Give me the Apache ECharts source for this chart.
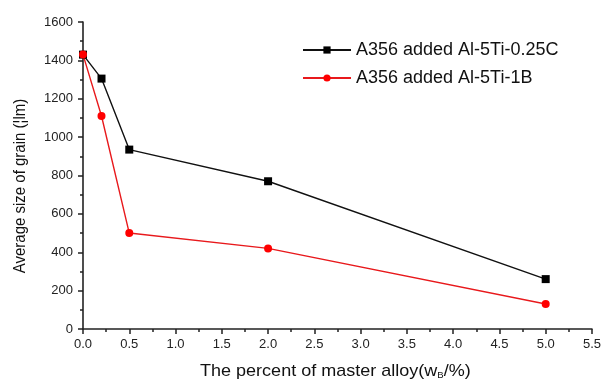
<!DOCTYPE html>
<html>
<head>
<meta charset="utf-8">
<script src="https://cdn.jsdelivr.net/npm/echarts@6/dist/echarts.min.js"></script>
<style>html,body{margin:0;padding:0;background:#fff}#c{width:604px;height:383px}</style>
</head>
<body>
<div id="c"></div>
<script>
var xValues = [0, 0.2, 0.5, 2.0, 5.0];
var seriesC = [1430, 1305, 935, 770, 260];
var seriesB = [1430, 1110, 500, 420, 130];
var seriesNames = ['A356 added Al-5Ti-0.25C', 'A356 added Al-5Ti-1B'];
var yTitle = 'Average size of grain (¦lm)';

function pairs(xs, ys) { return xs.map(function (x, i) { return [x, ys[i]]; }); }

var chart = echarts.init(document.getElementById('c'));
var font = 'Liberation Sans, Arial, sans-serif';
chart.setOption({
  animation: false,
  grid: { left: 83, right: 10, top: 22, bottom: 54 },
  legend: {
    orient: 'vertical', left: 297, top: 36, itemWidth: 48, itemHeight: 9, itemGap: 10,
    textStyle: { fontFamily: font, fontSize: 18, color: '#111' },
    data: seriesNames
  },
  xAxis: {
    type: 'value', min: 0, max: 5.5, interval: 0.5,
    axisLine: { lineStyle: { color: '#222', width: 1.6 } },
    axisTick: { inside: false, length: 5, lineStyle: { color: '#222', width: 1.5 } },
    minorTick: { show: true, splitNumber: 2, length: 3, lineStyle: { color: '#222', width: 1.5 } },
    splitLine: { show: false },
    axisLabel: { fontFamily: font, fontSize: 13, color: '#222', margin: 9, formatter: function (v) { return v.toFixed(1); } }
  },
  yAxis: {
    type: 'value', min: 0, max: 1600, interval: 200,
    axisLine: { show: true, lineStyle: { color: '#222', width: 1.6 } },
    axisTick: { show: true, inside: false, length: 5, lineStyle: { color: '#222', width: 1.5 } },
    minorTick: { show: true, splitNumber: 2, length: 3, lineStyle: { color: '#222', width: 1.5 } },
    splitLine: { show: false },
    axisLabel: { fontFamily: font, fontSize: 13, color: '#222', margin: 10, formatter: function (v) { return String(v); } }
  },
  graphic: [
    {
      type: 'text', x: 200, y: 362, scaleX: 1.06,
      style: {
        text: '{a|The percent of master alloy(w}{s|B}{a|/%)}',
        rich: {
          a: { fontFamily: font, fontSize: 17, fill: '#111' },
          s: { fontFamily: font, fontSize: 9, fill: '#111', padding: [9, 0, 0, 0] }
        }
      }
    },
    {
      type: 'text', x: 20, y: 186, rotation: Math.PI / 2, scaleY: 1.1,
      style: {
        text: yTitle, fontFamily: font, fontSize: 15, fill: '#111',
        align: 'center', verticalAlign: 'middle'
      }
    }
  ],
  series: [
    {
      name: seriesNames[0], type: 'line', data: pairs(xValues, seriesC),
      symbol: 'rect', symbolSize: 8,
      lineStyle: { color: '#111', width: 1.4 }, itemStyle: { color: '#000' }
    },
    {
      name: seriesNames[1], type: 'line', data: pairs(xValues, seriesB),
      symbol: 'circle', symbolSize: 8,
      lineStyle: { color: '#e8191c', width: 1.4 }, itemStyle: { color: '#f00' }
    }
  ]
});
</script>
</body>
</html>
